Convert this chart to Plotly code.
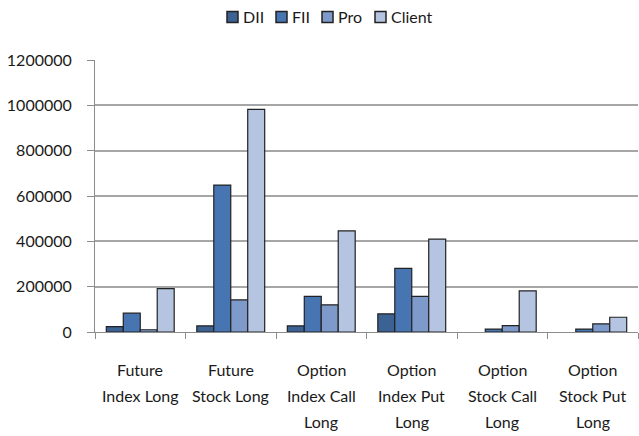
import plotly.graph_objects as go

categories = ["Future Index Long", "Future Stock Long", "Option Index Call Long",
              "Option Index Put Long", "Option Stock Call Long", "Option Stock Put Long"]
tick_lines = [["Future", "Index Long"], ["Future", "Stock Long"], ["Option", "Index Call", "Long"],
              ["Option", "Index Put", "Long"], ["Option", "Stock Call", "Long"], ["Option", "Stock Put", "Long"]]
dii = [24000, 27000, 27000, 80000, 0, 0]
fii = [83000, 648000, 157000, 281000, 13000, 13000]
pro = [10000, 142000, 120000, 157000, 28000, 36000]
client = [191000, 982000, 446000, 410000, 181000, 65000]
yticks = [0, 200000, 400000, 600000, 800000, 1000000, 1200000]
series_names = ["DII", "FII", "Pro", "Client"]
series_vals = [dii, fii, pro, client]
series_colors = ["#3C6193", "#4775B2", "#7D9ACA", "#B5C4E1"]

FONT = "Lato"
L, R, T, B = 95, 1, 60, 104
W, H = 639, 436
PW = W - L - R
PH = H - T - B

fig = go.Figure()
for name, vals, col in zip(series_names, series_vals, series_colors):
    fig.add_trace(go.Bar(x=categories, y=vals, name=name, showlegend=False,
                         marker=dict(color=col,
                                     line=dict(color="#222222",
                                               width=[1.2 if v > 0 else 0 for v in vals]))))

# category labels, one text per line
for cat, lines in zip(categories, tick_lines):
    for i, ln in enumerate(lines):
        fig.add_annotation(x=cat, y=0, xref="x", yref="y", text=ln, showarrow=False,
                           yshift=-(37 + 26 * i), yanchor="middle", xanchor="center",
                           font=dict(size=16, color="#1a1a1a", family=FONT))

# legend (square swatch + text)
leg_sq_x = [227, 276, 322, 375]
leg_y = 17
for name, col, sx in zip(series_names, series_colors, leg_sq_x):
    xp = (sx - L) / PW
    yp = (H - B - leg_y) / PH
    fig.add_shape(type="rect", xref="paper", yref="paper", xsizemode="pixel", ysizemode="pixel",
                  xanchor=xp, yanchor=yp, x0=0, x1=11, y0=-5.5, y1=5.5,
                  fillcolor=col, line=dict(color="#222222", width=1.5))
    fig.add_annotation(xref="paper", yref="paper", x=(sx + 14 - L) / PW, y=yp, text=name,
                       showarrow=False, xanchor="left", yanchor="middle",
                       font=dict(size=16, color="#1a1a1a", family=FONT))

fig.update_layout(
    width=W, height=H,
    margin=dict(l=L, r=R, t=T, b=B),
    paper_bgcolor="white", plot_bgcolor="white",
    barmode="group", bargap=0.25, bargroupgap=0,
    font=dict(family=FONT, size=16, color="#1a1a1a"),
    showlegend=False,
)
fig.update_xaxes(showticklabels=False, tickson="boundaries", ticks="outside", ticklen=6,
                 tickcolor="#8c8c8c", showline=True, linecolor="#8c8c8c", linewidth=1,
                 showgrid=False)
fig.update_yaxes(range=[0, 1200000], tickvals=yticks, ticktext=[str(v) for v in yticks],
                 ticks="outside", ticklen=7, tickcolor="#8c8c8c", showline=True,
                 linecolor="#8c8c8c", linewidth=1, showgrid=True, gridcolor="#a6a6a6",
                 gridwidth=1.5, zeroline=False, ticklabelstandoff=12)

fig.write_html("out.html", config={"displayModeBar": False},
               post_script="document.body.style.margin='0';document.body.style.overflow='hidden';")
